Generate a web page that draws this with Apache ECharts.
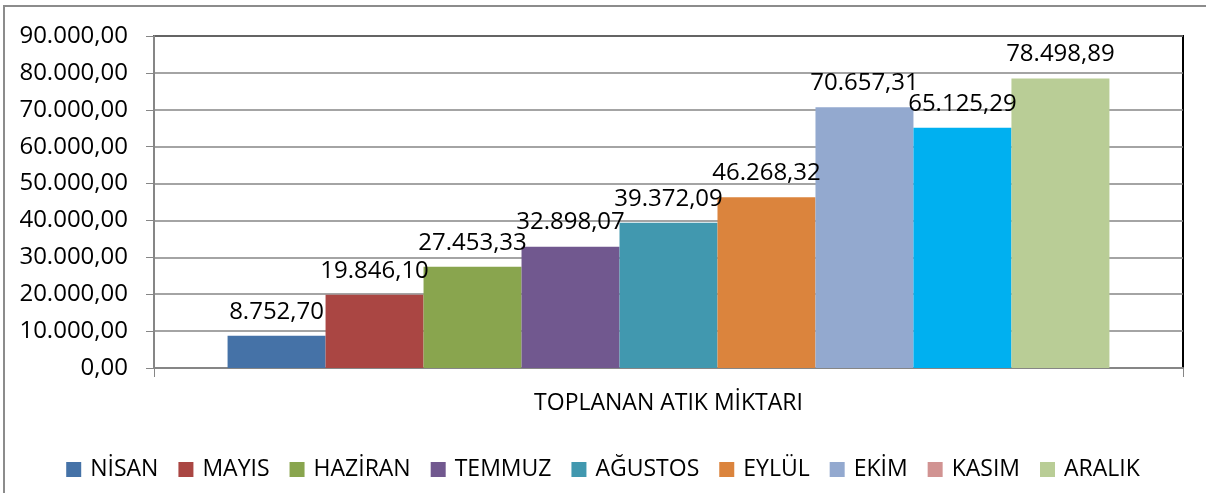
<!DOCTYPE html>
<html>
<head>
<meta charset="utf-8">
<script src="https://cdn.jsdelivr.net/npm/echarts@6/dist/echarts.min.js"></script>
<style>
html,body{margin:0;padding:0;background:#fff;}
#chart{width:1206px;height:493px;}
</style>
</head>
<body>
<div id="chart"></div>
<script>
var categories = ['TOPLANAN ATIK MİKTARI'];
var seriesNames = ['NİSAN','MAYIS','HAZİRAN','TEMMUZ','AĞUSTOS','EYLÜL','EKİM','KASIM','ARALIK'];
var seriesValues = [8752.70, 19846.10, 27453.33, 32898.07, 39372.09, 46268.32, 70657.31, 65125.29, 78498.89];
var barColors = ['#4572A7','#AA4643','#89A54E','#71588F','#4198AF','#DB843D','#93A9CF','#00B0F0','#B9CD96'];
var legendColors = ['#4572A7','#AA4643','#89A54E','#71588F','#4198AF','#DB843D','#93A9CF','#D19392','#B9CD96'];
var yMin = 0, yMax = 90000, yInterval = 10000;

function fmtTR(v){
  var fixed = Math.abs(v).toFixed(2);
  var parts = fixed.split('.');
  var intPart = parts[0].replace(/\B(?=(\d{3})+(?!\d))/g, '.');
  return (v < 0 ? '-' : '') + intPart + ',' + parts[1];
}

var FONT = '"Open Sans", "Noto Sans", sans-serif';

var series = seriesNames.map(function(name, i){
  return {
    name: name,
    type: 'bar',
    data: [seriesValues[i]],
    itemStyle: { color: barColors[i] },
    barGap: '0%',
    barCategoryGap: '14.3%',
    label: {
      show: true,
      position: 'top',
      distance: 12,
      color: '#000',
      fontFamily: FONT,
      fontSize: 24,
      formatter: function(p){ return fmtTR(p.value); }
    }
  };
});

var chart = echarts.init(document.getElementById('chart'), null, {renderer: 'canvas'});
chart.setOption({
  animation: false,
  backgroundColor: '#fff',
  graphic: [{
    type: 'rect',
    shape: { x: 4, y: 6, width: 1220, height: 510 },
    style: { fill: null, stroke: '#8c8c8c', lineWidth: 2 },
    silent: true,
    z: -10
  }],
  grid: {
    left: 154, right: 23, top: 36, bottom: 125,
    show: true,
    borderColor: '#000',
    borderWidth: 2,
    backgroundColor: 'transparent'
  },
  legend: {
    data: seriesNames.map(function(n, i){ return { name: n, itemStyle: { color: legendColors[i] } }; }),
    left: 'center',
    top: 453,
    itemWidth: 15,
    itemHeight: 15,
    itemGap: 20,
    icon: 'rect',
    selectedMode: false,
    textStyle: { fontFamily: FONT, fontSize: 23, color: '#000', padding: [0,0,0,4] }
  },
  xAxis: {
    type: 'category',
    data: categories,
    axisLine: { lineStyle: { color: '#868686', width: 2 } },
    axisTick: { show: true, length: 9, lineStyle: { color: '#868686', width: 1 } },
    axisLabel: { margin: 24, color: '#000', fontFamily: FONT, fontSize: 23 },
    splitLine: { show: false }
  },
  yAxis: {
    type: 'value',
    min: yMin, max: yMax, interval: yInterval,
    axisLine: { show: true, lineStyle: { color: '#868686', width: 2 } },
    axisTick: { show: true, length: 8, lineStyle: { color: '#868686', width: 1 } },
    axisLabel: { margin: 26, color: '#000', fontFamily: FONT, fontSize: 24, formatter: function(v){ return fmtTR(v); } },
    splitLine: { show: true, lineStyle: { color: '#868686', width: 1.5 } }
  },
  series: series
});
</script>
</body>
</html>
